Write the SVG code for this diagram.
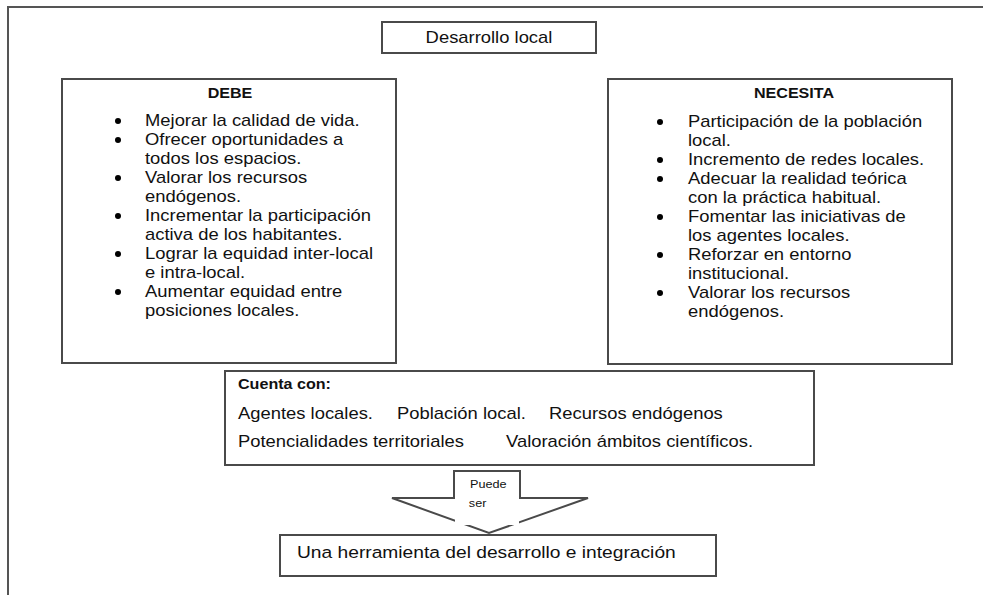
<svg xmlns="http://www.w3.org/2000/svg" width="983" height="595" viewBox="0 0 983 595">
<style>
.box{fill:#fff;stroke:#4a4a4a;stroke-width:2}
.line{fill:none;stroke:#4a4a4a;stroke-width:2}
.frame{fill:none;stroke:#555;stroke-width:2}
text{font-family:"Liberation Sans",Arial,sans-serif;fill:#111;font-size:16px}
.hd{font-size:14px;font-weight:700}
.sm{font-size:11px}
.dot{fill:#000}
</style>
<rect width="983" height="595" fill="#fff"/>
<g id="frame">
<path class="frame" d="M8 595 V7 H983"/>
</g>
<g id="desarrollo">
<rect class="box" x="382" y="22" width="214" height="31"/>
<g transform="translate(489,0) scale(1.15,1)"><text x="0" y="43" text-anchor="middle">Desarrollo local</text></g>
</g>
<g id="debe">
<rect class="box" x="62" y="79" width="334" height="284"/>
<g transform="translate(230,0) scale(1.15,1)"><text class="hd" x="0" y="98" text-anchor="middle">DEBE</text></g>
<g class="dot">
<circle cx="118" cy="121" r="3"/><circle cx="118" cy="140" r="3"/><circle cx="118" cy="178" r="3"/><circle cx="118" cy="216" r="3"/><circle cx="118" cy="254" r="3"/><circle cx="118" cy="292" r="3"/>
</g>
<g transform="translate(145,0) scale(1.15,1)">
<text x="0" y="126">Mejorar la calidad de vida.</text>
<text x="0" y="145">Ofrecer oportunidades a</text>
<text x="0" y="164">todos los espacios.</text>
<text x="0" y="183">Valorar los recursos</text>
<text x="0" y="202">endógenos.</text>
<text x="0" y="221">Incrementar la participación</text>
<text x="0" y="240">activa de los habitantes.</text>
<text x="0" y="259">Lograr la equidad inter-local</text>
<text x="0" y="278">e intra-local.</text>
<text x="0" y="297">Aumentar equidad entre</text>
<text x="0" y="316">posiciones locales.</text>
</g>
</g>
<g id="necesita">
<rect class="box" x="608" y="79" width="344" height="285"/>
<g transform="translate(794,0) scale(1.15,1)"><text class="hd" x="0" y="98" text-anchor="middle">NECESITA</text></g>
<g class="dot">
<circle cx="660" cy="122" r="3"/><circle cx="660" cy="160" r="3"/><circle cx="660" cy="179" r="3"/><circle cx="660" cy="217" r="3"/><circle cx="660" cy="255" r="3"/><circle cx="660" cy="293" r="3"/>
</g>
<g transform="translate(688,0) scale(1.15,1)">
<text x="0" y="127">Participación de la población</text>
<text x="0" y="146">local.</text>
<text x="0" y="165">Incremento de redes locales.</text>
<text x="0" y="184">Adecuar la realidad teórica</text>
<text x="0" y="203">con la práctica habitual.</text>
<text x="0" y="222">Fomentar las iniciativas de</text>
<text x="0" y="241">los agentes locales.</text>
<text x="0" y="260">Reforzar en entorno</text>
<text x="0" y="279">institucional.</text>
<text x="0" y="298">Valorar los recursos</text>
<text x="0" y="317">endógenos.</text>
</g>
</g>
<g id="cuenta">
<rect class="box" x="225" y="371" width="589" height="94"/>
<g transform="translate(238,0) scale(1.15,1)">
<text x="0" y="389" style="font-size:14px;font-weight:700">Cuenta con:</text>
<text x="0" y="419">Agentes locales.</text>
<text x="0" y="447">Potencialidades territoriales</text>
</g>
<g transform="translate(397,0) scale(1.15,1)"><text x="0" y="419">Población local.</text></g>
<g transform="translate(549,0) scale(1.15,1)"><text x="0" y="419">Recursos endógenos</text></g>
<g transform="translate(506,0) scale(1.15,1)"><text x="0" y="447">Valoración ámbitos científicos.</text></g>
</g>
<g id="connectors">
<g id="arrow">
<path class="box" d="M454 471 H520 V498 H588 L489 533 L392 498 H454 Z"/>
<rect x="455" y="499" width="64" height="26" fill="#fff"/>
<g transform="translate(470,0) scale(1.15,1)">
<text class="sm" x="0" y="488">Puede</text>
<text class="sm" x="-1" y="507">ser</text>
</g>
</g>
</g>
<g id="herramienta">
<rect class="box" x="280" y="535" width="436" height="41"/>
<g transform="translate(297,0) scale(1.15,1)"><text x="0" y="558" style="font-size:16.7px">Una herramienta del desarrollo e integración</text></g>
</g>
</svg>
